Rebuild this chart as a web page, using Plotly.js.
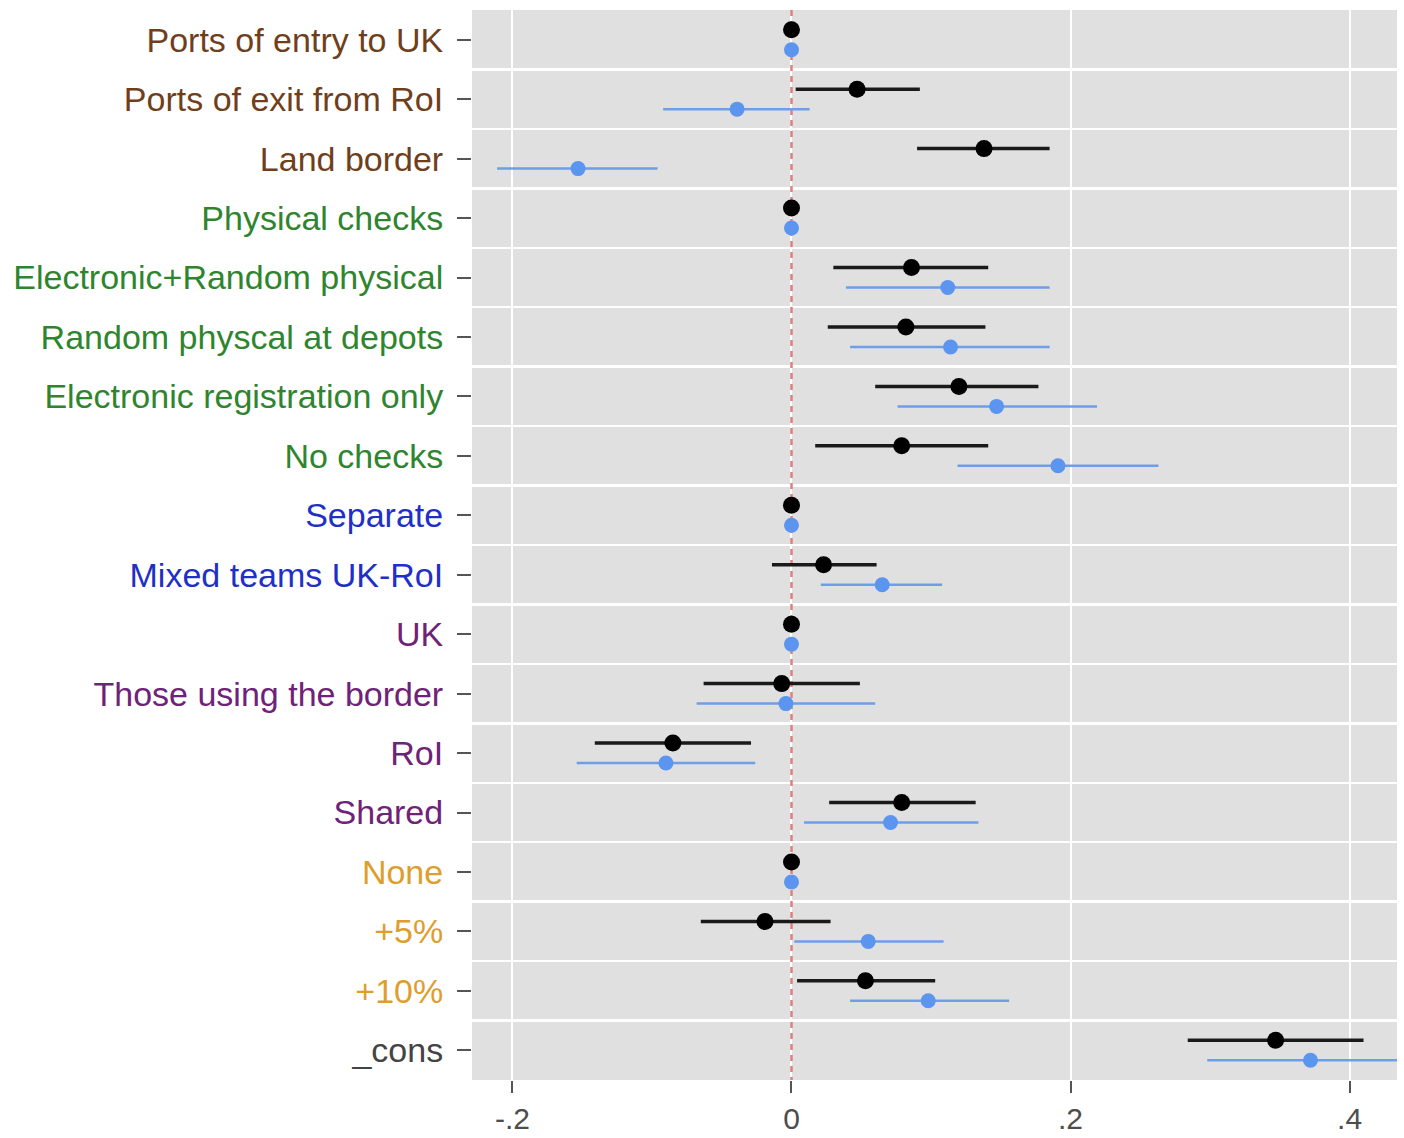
<!DOCTYPE html>
<html>
<head>
<meta charset="utf-8">
<script src="https://cdn.plot.ly/plotly-3.0.1.min.js"></script>
<style>
  html, body { margin: 0; padding: 0; background: #ffffff; }
  #chart { width: 1404px; height: 1138px; }
</style>
</head>
<body>
<div id="chart"></div>
<script>
// ---- data ----
const categories = [
  "Ports of entry to UK", "Ports of exit from RoI", "Land border",
  "Physical checks", "Electronic+Random physical", "Random physcal at depots",
  "Electronic registration only", "No checks",
  "Separate", "Mixed teams UK-RoI",
  "UK", "Those using the border", "RoI", "Shared",
  "None", "+5%", "+10%",
  "_cons"
];

const blackEst = [0, 0.047, 0.138, 0, 0.086, 0.082, 0.120, 0.079, 0, 0.023, 0, -0.007, -0.085, 0.079, 0, -0.019, 0.053, 0.347];
const blackLo  = [0, 0.003, 0.090, 0, 0.030, 0.026, 0.060, 0.017, 0, -0.014, 0, -0.063, -0.141, 0.027, 0, -0.065, 0.004, 0.284];
const blackHi  = [0, 0.092, 0.185, 0, 0.141, 0.139, 0.177, 0.141, 0, 0.061, 0, 0.049, -0.029, 0.132, 0, 0.028, 0.103, 0.410];

const blueEst = [0, -0.039, -0.153, 0, 0.112, 0.114, 0.147, 0.191, 0, 0.065, 0, -0.004, -0.090, 0.071, 0, 0.055, 0.098, 0.372];
const blueLo  = [0, -0.092, -0.211, 0, 0.039, 0.042, 0.076, 0.119, 0, 0.021, 0, -0.068, -0.154, 0.009, 0, 0.002, 0.042, 0.298];
const blueHi  = [0, 0.013, -0.096, 0, 0.185, 0.185, 0.219, 0.263, 0, 0.108, 0, 0.060, -0.026, 0.134, 0, 0.109, 0.156, 0.447];

const xTickVals = [-0.2, 0, 0.2, 0.4];
const xTickText = ["-.2", "0", ".2", ".4"];
const refValue = 0;

// ---- style ----
const groupColor = [
  "#6f3f1c", "#6f3f1c", "#6f3f1c",
  "#2e852e", "#2e852e", "#2e852e", "#2e852e", "#2e852e",
  "#1f30c8", "#1f30c8",
  "#6e2278", "#6e2278", "#6e2278", "#6e2278",
  "#dd9e2c", "#dd9e2c", "#dd9e2c",
  "#444444"
];
const OFF = 0.168;
const yRange = [categories.length - 0.5, -0.5];

const idx = categories.map((_, i) => i);
const diff = (a, b) => a.map((v, i) => v - b[i]);

const traces = [
  {
    type: "scatter", mode: "lines",
    x: [refValue, refValue], y: [yRange[1], yRange[0]],
    line: { color: "#dd7f7f", width: 2.5, dash: "6px,5px" },
    showlegend: false, hoverinfo: "skip"
  },
  {
    type: "scatter", mode: "markers",
    x: blackEst, y: idx.map(i => i - OFF),
    marker: { color: "#000000", size: 17 },
    error_x: { type: "data", symmetric: false,
      array: diff(blackHi, blackEst), arrayminus: diff(blackEst, blackLo),
      color: "#1a1a1a", thickness: 3.5, width: 0 },
    showlegend: false, hoverinfo: "x"
  },
  {
    type: "scatter", mode: "markers",
    x: blueEst, y: idx.map(i => i + OFF),
    marker: { color: "#5b95ef", size: 15 },
    error_x: { type: "data", symmetric: false,
      array: diff(blueHi, blueEst), arrayminus: diff(blueEst, blueLo),
      color: "#6e9ee8", thickness: 2.5, width: 0 },
    showlegend: false, hoverinfo: "x"
  }
];

const layout = {
  width: 1404, height: 1138,
  margin: { l: 472, r: 7, t: 10, b: 58, pad: 0 },
  paper_bgcolor: "#ffffff",
  plot_bgcolor: "#e0e0e0",
  font: { family: "Liberation Sans, Arial, sans-serif", size: 34, color: "#4d4d4d" },
  showlegend: false,
  xaxis: {
    range: [-0.229, 0.434],
    tickmode: "array", tickvals: xTickVals, ticktext: xTickText,
    showgrid: true, gridcolor: "#ffffff", gridwidth: 2,
    zeroline: false, showline: false,
    ticks: "outside", ticklen: 12, tickwidth: 2, tickcolor: "#555555",
    tickfont: { size: 30, color: "#4d4d4d" }
  },
  yaxis: {
    range: yRange,
    tickmode: "array", tickvals: idx,
    ticktext: categories.map((c, i) => '<span style="color:' + groupColor[i] + '">' + c + '</span>'),
    showgrid: false, zeroline: false, showline: false,
    ticks: "outside", ticklen: 14, tickwidth: 2, tickcolor: "#555555",
    ticklabelstandoff: 7,
    tickfont: { size: 34 },
    minor: { tick0: 0.5, dtick: 1, showgrid: true, gridcolor: "#ffffff", gridwidth: 2.5, ticks: "" }
  }
};

Plotly.newPlot("chart", traces, layout, { displayModeBar: false, staticPlot: true });
</script>
</body>
</html>
